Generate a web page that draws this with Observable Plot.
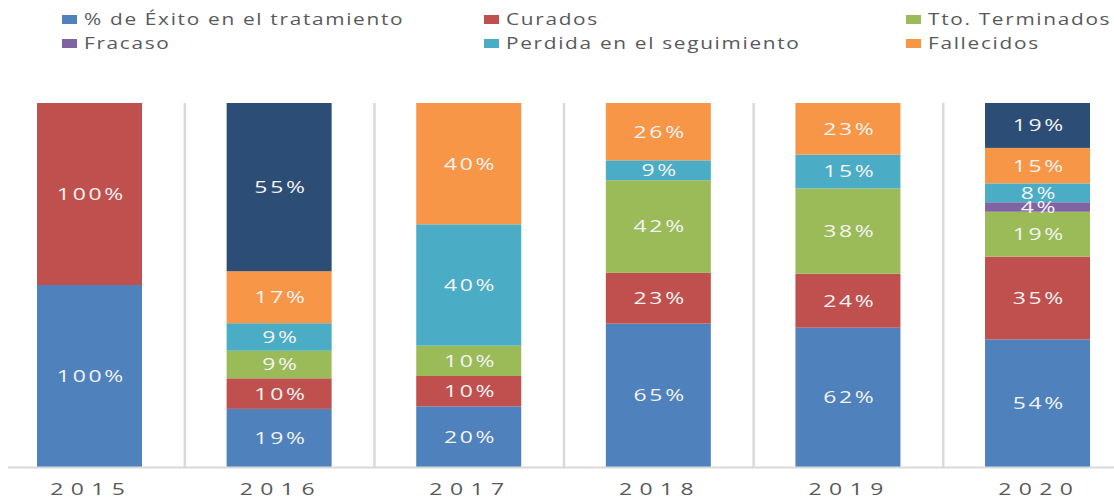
<!DOCTYPE html>
<html>
<head>
<meta charset="utf-8">
<script src="https://cdn.jsdelivr.net/npm/d3@7"></script>
<script src="https://cdn.jsdelivr.net/npm/@observablehq/plot@0.6"></script>
<style>
  html, body { margin: 0; padding: 0; background: #fff; }
  #wrap { position: relative; width: 1114px; height: 499px; overflow: hidden; font-family: "Open Sans", sans-serif; }
  #legend { position: absolute; left: 0; top: 0; width: 1114px; height: 60px; }
  .item { position: absolute; height: 24px; line-height: 24px; white-space: nowrap; }
  .txt { display: inline-block; font-size: 16px; color: #595959; letter-spacing: 1.3px; transform: scaleX(1.3); transform-origin: 0 50%; }
  .sw { position: absolute; left: -22px; top: 8px; width: 15px; height: 9px; }
  #chart { position: absolute; left: 0; top: 60px; }
  g[aria-label="text"] text { letter-spacing: 2px; }
  g[aria-label="x-axis tick label"] text { letter-spacing: 5.5px; }
</style>
</head>
<body>
<div id="wrap">
  <div id="legend"></div>
  <div id="chart"></div>
</div>
<script>
const years = ["2015", "2016", "2017", "2018", "2019", "2020"];
const seriesNames = [
  "% de Éxito en el tratamiento",
  "Curados",
  "Tto. Terminados",
  "Fracaso",
  "Perdida en el seguimiento",
  "Fallecidos",
  "Sin leyenda"
];
const exito      = [100, 19, 20, 65, 62, 54];
const curados    = [100, 10, 10, 23, 24, 35];
const terminados = [0, 9, 10, 42, 38, 19];
const fracaso    = [0, 0, 0, 0, 0, 4];
const perdida    = [0, 9, 40, 9, 15, 8];
const fallecidos = [0, 17, 40, 26, 23, 15];
const sinLeyenda = [0, 55, 0, 0, 0, 19];
const legendNames = seriesNames.slice(0, 6);

const colors = ["#4F81BD", "#C0504D", "#9BBB59", "#8064A2", "#4BACC6", "#F79646", "#2C4D75"];
const seriesValues = [exito, curados, terminados, fracaso, perdida, fallecidos, sinLeyenda];

const rows = [];
seriesNames.forEach((s, i) => {
  years.forEach((y, j) => rows.push({ year: y, series: s, value: seriesValues[i][j] }));
});

// legend (3 columns, 2 rows)
const colX = [84, 506, 928];
const rowY = [7, 31];
const legend = document.getElementById("legend");
legendNames.forEach((name, idx) => {
  const div = document.createElement("div");
  div.className = "item";
  div.style.left = colX[idx % 3] + "px";
  div.style.top = rowY[Math.floor(idx / 3)] + "px";
  const sw = document.createElement("span");
  sw.className = "sw";
  sw.style.background = colors[idx];
  div.appendChild(sw);
  const t = document.createElement("span");
  t.className = "txt";
  t.textContent = name;
  div.appendChild(t);
  legend.appendChild(div);
});

const step = 189.6;

const chart = Plot.plot({
  width: 1114,
  height: 439,
  marginTop: 43,
  marginBottom: 32,
  marginLeft: 8,
  marginRight: 0,
  style: { fontFamily: "Open Sans, sans-serif", background: "transparent" },
  x: { domain: years, range: [0, 1114], paddingInner: 0.4462, paddingOuter: 0.1609, align: 0.607, round: false, label: null },
  y: { domain: [0, 1], axis: null },
  color: { domain: seriesNames, range: colors },
  marks: [
    Plot.ruleX(years.slice(1), { x: d => d, dx: -step / 2, y1: 0, y2: 1, stroke: "#d9d9d9", strokeWidth: 2.5 }),
    Plot.barY(rows, Plot.stackY({ x: "year", y: "value", fill: "series", offset: "normalize", order: null })),
    Plot.text(rows.filter(d => d.value > 0), Plot.stackY({
      x: "year", y: "value", z: "series", offset: "normalize", order: null,
      text: d => d.value + "%", fill: "#f4f4f4", fontSize: 17
    })),
    Plot.ruleY([0], { stroke: "#d9d9d9", strokeWidth: 2 }),
    Plot.axisX({ tickSize: 0, tickPadding: 15, fontSize: 17, fill: "#595959", label: null })
  ]
});
document.getElementById("chart").appendChild(chart);

// stretch glyphs horizontally like the original (vertical placement untouched)
function stretch(sel, sx, shift) {
  sel.each(function () {
    const t = this.getAttribute("transform") || "";
    const xa = this.getAttribute("x");
    const x = xa !== null && isFinite(+xa) ? +xa : 0;
    this.setAttribute("transform", `${t} translate(${x},0) scale(${sx},1)`);
    this.setAttribute("x", shift);
  });
}
stretch(d3.select(chart).selectAll('g[aria-label="text"] text'), 1.35, 1);
stretch(d3.select(chart).selectAll('g[aria-label="x-axis tick label"] text'), 1.35, 0.9);
</script>
</body>
</html>
